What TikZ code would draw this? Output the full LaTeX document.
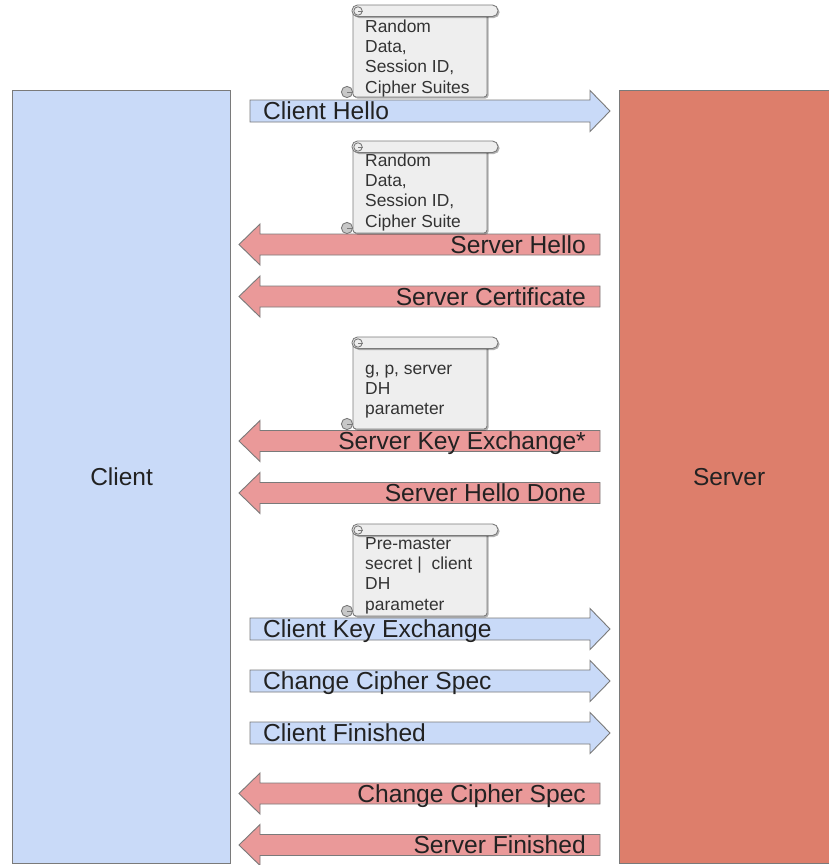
\documentclass[tikz,border=0pt]{standalone}
\usepackage{fontspec}
\setmainfont{Liberation Sans}
\usetikzlibrary{shadows}
\definecolor{cblue}{HTML}{C9DAF8}
\definecolor{sred}{HTML}{DD7E6B}
\definecolor{ared}{HTML}{EA9999}
\definecolor{edge}{HTML}{7A7A7A}
\definecolor{paper}{HTML}{EEEEEE}
\definecolor{curl}{HTML}{C8C8C8}
\definecolor{ink}{HTML}{222222}
\definecolor{noteink}{HTML}{333333}

\tikzset{
  party/.style={draw=edge, line width=1.2pt, font=\fontsize{24.5}{28}\selectfont, text=ink,
                minimum width=218pt, minimum height=773pt, anchor=north west, inner sep=0pt},
  rarrow/.style={fill=cblue, draw=edge, line width=0.9pt, line join=miter},
  larrow/.style={fill=ared, draw=edge, line width=0.9pt, line join=miter},
  msg/.style={font=\fontsize{24.6}{28}\selectfont, text=ink, inner sep=0pt},
  paperpart/.style={fill=paper, draw=edge, line width=0.9pt},
  shadowed/.style={drop shadow={shadow xshift=1.5pt, shadow yshift=-1.5pt, opacity=0.3, fill=black}},
  notetext/.style={font=\fontsize{17.4}{20.3}\selectfont, text=noteink, inner sep=0pt,
                   align=left, anchor=north west},
}

% right-pointing message: name, centre y, text
\newcommand\rightmsg[3]{%
  \draw[rarrow] (250,#2-11) -- (590,#2-11) -- (590,#2-20.5) -- (610,#2)
     -- (590,#2+20.5) -- (590,#2+11) -- (250,#2+11) -- cycle;
  \node[msg, anchor=base west] (#1) at (263,#2+8.5) {#3};
}
% left-pointing message: name, centre y, text
\newcommand\leftmsg[3]{%
  \draw[larrow] (600,#2-10.5) -- (260,#2-10.5) -- (260,#2-20.5) -- (239,#2)
     -- (260,#2+20.5) -- (260,#2+10.5) -- (600,#2+10.5) -- cycle;
  \node[msg, anchor=base east] (#1) at (586,#2+8.5) {#3};
}
% scroll note: name, top y, first baseline offset, text
\newcommand\scrollnote[4]{%
  \begin{scope}[shift={(0,#2)}]
    \draw[paperpart, shadowed, rounded corners=3] (353,6) rectangle (487,92);
    \draw[paperpart, shadowed, rounded corners=5.5] (352,0) rectangle (498,11.5);
    \draw[edge, line width=0.9pt] (358,6) circle (4.2);
    \draw[edge, line width=0.9pt] (358,6) -- (363,6);
    \draw[fill=curl, draw=edge, line width=0.9pt] (347,87) circle (5.6);
    \draw[edge, line width=0.9pt] (347,87) -- (353,87);
    \node[notetext] (#1) at (365,#3-14) {\rule{0pt}{14pt}#4};
  \end{scope}
}

\begin{document}
\begin{tikzpicture}[x=1pt, y=-1pt]
  \useasboundingbox (0,0) rectangle (828,865);
  \fill[white] (0,0) rectangle (828,865);

  \node[party, fill=cblue] (client) at (12,90) {Client};
  \node[party, fill=sred, minimum width=219pt] (server) at (619,90) {Server};

  \rightmsg{chello}{111}{Client Hello}
  \leftmsg{shello}{244.5}{Server Hello}
  \leftmsg{scert}{296.5}{Server Certificate}
  \leftmsg{skex}{441}{Server Key Exchange*}
  \leftmsg{shdone}{493}{Server Hello Done}
  \rightmsg{ckex}{629}{Client Key Exchange}
  \rightmsg{cccs}{681}{Change Cipher Spec}
  \rightmsg{cfin}{733}{Client Finished}
  \leftmsg{sccs}{793.5}{Change Cipher Spec}
  \leftmsg{sfin}{845}{Server Finished}

  \scrollnote{n1}{5}{27}{Random\\Data,\\Session ID,\\Cipher Suites}
  \scrollnote{n2}{141}{25}{Random\\Data,\\Session ID,\\Cipher Suite}
  \scrollnote{n3}{337}{37}{g, p, server\\DH\\parameter}
  \scrollnote{n4}{524}{25}{Pre-master\\secret |\ \ client\\DH\\parameter}
\end{tikzpicture}
\end{document}
